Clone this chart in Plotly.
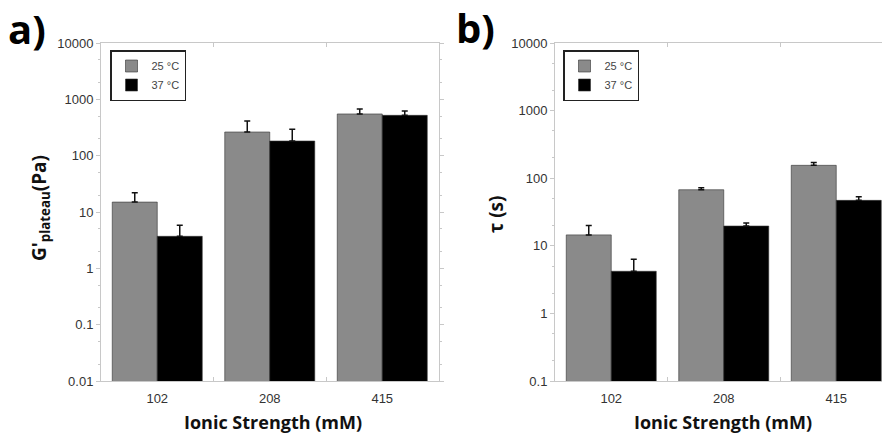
import plotly.graph_objects as go

categories = ["102", "208", "415"]

# Panel a: G'plateau (Pa)
g_25 = [15, 263, 550]
g_25_err = [7, 151, 126]
g_37 = [3.7, 182, 520]
g_37_err = [2.1, 113, 100]

# Panel b: tau (s)
t_25 = [14.5, 67.5, 155]
t_25_err = [5.5, 4.5, 15]
t_37 = [4.2, 19.6, 47]
t_37_err = [2.1, 2.2, 6]

a_ticks = [0.01, 0.1, 1, 10, 100, 1000, 10000]
b_ticks = [0.1, 1, 10, 100, 1000, 10000]

GRAY = "#8a8a8a"
BLACK = "#000000"
AXC = "#c8c8c8"

fig = go.Figure()

def add_bars(y, err, name, color, xa, ya, legend, show):
    fig.add_trace(go.Bar(
        x=categories, y=y, name=name, xaxis=xa, yaxis=ya, legend=legend,
        marker=dict(color=color, line=dict(color="#333333", width=0.6)),
        error_y=dict(type="data", array=err, symmetric=False,
                     arrayminus=[0] * len(err), color="#111111",
                     thickness=1.5, width=3),
        showlegend=show,
    ))

add_bars(g_25, g_25_err, "25 °C", GRAY, "x", "y", "legend", True)
add_bars(g_37, g_37_err, "37 °C", BLACK, "x", "y", "legend", True)
add_bars(t_25, t_25_err, "25 °C", GRAY, "x2", "y2", "legend2", True)
add_bars(t_37, t_37_err, "37 °C", BLACK, "x2", "y2", "legend2", True)

W, H = 882, 435
ytop = 1 - 43 / H
ybot = 1 - 381 / H

tickfont = dict(family="Liberation Sans, Arial", size=13, color="#333333")

def xaxis(domain, rng, anchor):
    return dict(domain=domain, anchor=anchor, type="category", range=rng,
                showline=True, linecolor=AXC, linewidth=1, mirror="ticks",
                ticks="inside", ticklen=4, tickcolor=AXC, tickson="boundaries",
                tickfont=tickfont, ticklabelstandoff=5, showgrid=False,
                zeroline=False, automargin=False)

def yaxis(rng, ticks, anchor):
    return dict(domain=[ybot, ytop], anchor=anchor, type="log", range=rng,
                tickvals=ticks, ticktext=[("%g" % t) for t in ticks],
                showline=True, linecolor=AXC, linewidth=1, mirror="ticks",
                ticks="outside", ticklen=4, tickcolor=AXC,
                minor=dict(ticks="outside", ticklen=2, tickcolor=AXC, showgrid=False),
                tickfont=tickfont, showgrid=False, zeroline=False, automargin=False)

legfont = dict(family="Liberation Sans, Arial", size=11, color="#444444")

fig.update_layout(
    width=W, height=H,
    margin=dict(l=0, r=0, t=0, b=0, autoexpand=False),
    paper_bgcolor="white", plot_bgcolor="white",
    barmode="group", bargap=0.2, bargroupgap=0,
    xaxis=xaxis([101 / W, 438.5 / W], [-0.5, 2.5], "y"),
    yaxis=yaxis([-2, 4], a_ticks, "x"),
    xaxis2=xaxis([555 / W, 1.0], [-0.5, 2.5 - 10.5 / 112.5], "y2"),
    yaxis2=yaxis([-1, 4], b_ticks, "x2"),
    legend=dict(x=110 / W, y=1 - 50 / H, xanchor="left", yanchor="top",
                bordercolor="#222222", borderwidth=1.5, bgcolor="white",
                font=legfont, itemwidth=30, tracegroupgap=0),
    legend2=dict(x=563 / W, y=1 - 50 / H, xanchor="left", yanchor="top",
                 bordercolor="#222222", borderwidth=1.5, bgcolor="white",
                 font=legfont, itemwidth=30, tracegroupgap=0),
    showlegend=True,
)

titlefont = dict(family="Open Sans", size=18, color="#111111")
ann = [
    dict(text="<b>a)</b>", x=27 / W, y=1 - 28 / H, font=dict(family="Open Sans", size=40, color="#000")),
    dict(text="<b>b)</b>", x=475 / W, y=1 - 27 / H, font=dict(family="Open Sans", size=40, color="#000")),
    dict(text="<b>Ionic Strength (mM)</b>", x=273 / W, y=1 - 422 / H, font=titlefont),
    dict(text="<b>Ionic Strength (mM)</b>", x=723 / W, y=1 - 422 / H, font=titlefont),
    dict(text="<b>G'<sub>plateau</sub>(Pa)</b>", x=40 / W, y=1 - 208 / H,
         font=dict(family="Open Sans", size=19, color="#111111"), textangle=-90),
    dict(text="<b>τ (s)</b>", x=496 / W, y=1 - 215 / H,
         font=dict(family="Open Sans", size=19, color="#111111"), textangle=-90),
]
for a in ann:
    fig.add_annotation(xref="paper", yref="paper", showarrow=False,
                       xanchor="center", yanchor="middle", **a)

fig.write_html("out.html")
